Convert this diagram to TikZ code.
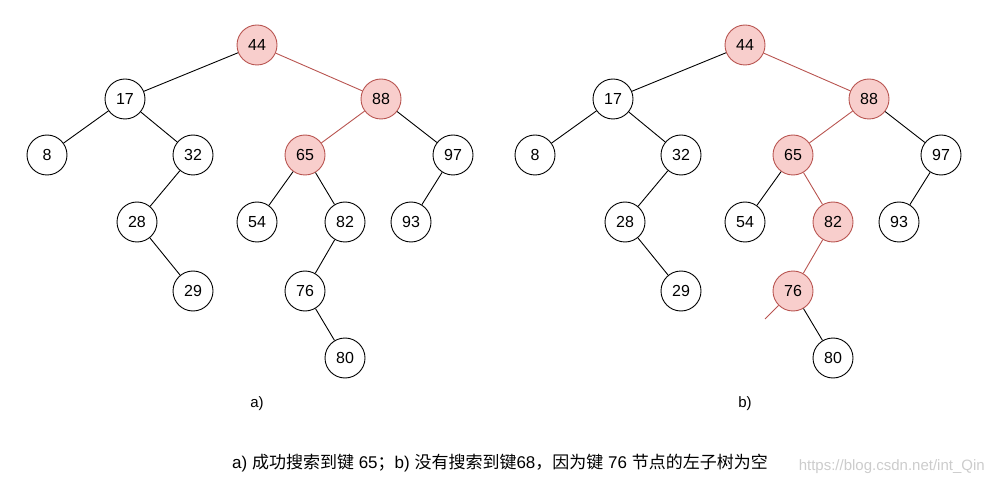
\documentclass[tikz,border=0pt]{standalone}
\usepackage{fontspec}
\setmainfont{Liberation Sans}
\newfontfamily\cjk{Noto Sans CJK SC}
\usetikzlibrary{calc}
\definecolor{hitfill}{HTML}{F8CECC}
\definecolor{hitline}{HTML}{B85450}
\tikzset{key/.style={circle,draw,minimum size=40pt,inner sep=0pt,font=\fontsize{16}{16}\selectfont},
 hit/.style={key,draw=hitline,fill=hitfill},
 tag/.style={font=\fontsize{15}{15}\selectfont}}
\begin{document}
\begin{tikzpicture}[x=1pt,y=-1pt,line width=0.9pt]
 \useasboundingbox (0,0) rectangle (990,494);
 % a) search hits 65
 \begin{scope}
 \node[hit] (a44) at (257,45) {44}; \node[key] (a17) at (125,99) {17}; \node[hit] (a88) at (381,99) {88};
 \node[key] (a8) at (47,155) {8}; \node[key] (a32) at (193,155) {32}; \node[hit] (a65) at (305,155) {65}; \node[key] (a97) at (453,155) {97};
 \node[key] (a28) at (137,222) {28}; \node[key] (a54) at (257,222) {54}; \node[key] (a82) at (345,222) {82}; \node[key] (a93) at (411,222) {93};
 \node[key] (a29) at (193,291) {29}; \node[key] (a76) at (305,291) {76}; \node[key] (a80) at (345,358) {80};
 \foreach \u/\v in {44/17,17/8,17/32,32/28,28/29,88/97,97/93,65/54,65/82,82/76,76/80} \draw (a\u)--(a\v);
 \foreach \u/\v in {44/88,88/65} \draw[hitline] (a\u)--(a\v);
 \node[tag] (alabel) at (257,404) {a)};
 \end{scope}
 % b) search for 68 ends at empty subtree of 76
 \begin{scope}[shift={(488,0)}]
 \node[hit] (b44) at (257,45) {44}; \node[key] (b17) at (125,99) {17}; \node[hit] (b88) at (381,99) {88};
 \node[key] (b8) at (47,155) {8}; \node[key] (b32) at (193,155) {32}; \node[hit] (b65) at (305,155) {65}; \node[key] (b97) at (453,155) {97};
 \node[key] (b28) at (137,222) {28}; \node[key] (b54) at (257,222) {54}; \node[hit] (b82) at (345,222) {82}; \node[key] (b93) at (411,222) {93};
 \node[key] (b29) at (193,291) {29}; \node[hit] (b76) at (305,291) {76}; \node[key] (b80) at (345,358) {80};
 \coordinate (bnil) at (277,319);
 \foreach \u/\v in {44/17,17/8,17/32,32/28,28/29,88/97,97/93,65/54,76/80} \draw (b\u)--(b\v);
 \foreach \u/\v in {44/88,88/65,65/82,82/76} \draw[hitline] (b\u)--(b\v);
 \draw[hitline] (b76)--(bnil);
 \node[tag] (blabel) at (257,404) {b)};
 \end{scope}
 \node[tag,font=\fontsize{17}{17}\selectfont] (caption) at (500,463) {a) {\cjk 成功搜索到键} 65{\cjk ；}b) {\cjk 没有搜索到键}68{\cjk ，因为键} 76 {\cjk 节点的左子树为空}};
 \node[anchor=west,text=gray!40,font=\fontsize{15}{15}\selectfont] (mark) at (795,467) {https://blog.csdn.net/int\_Qin};
\end{tikzpicture}
\end{document}
